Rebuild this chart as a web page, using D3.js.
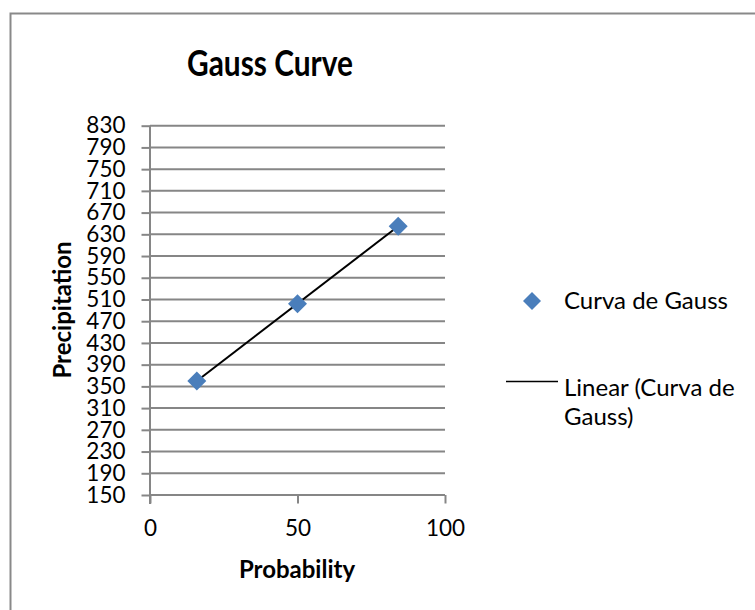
<!DOCTYPE html>
<html>
<head>
<meta charset="utf-8">
<script src="https://cdn.jsdelivr.net/npm/d3@7"></script>
<style>
  body { margin: 0; background: #fff; }
  svg text { font-family: Lato, "Open Sans", sans-serif; fill: #000; }
</style>
</head>
<body>
<div id="chartArea"></div>
<script>
// chart data
const probability = [15.87, 50, 84.13];
const precipitation = [360, 502, 645];
const yTicks = [150, 190, 230, 270, 310, 350, 390, 430, 470, 510, 550, 590, 630, 670, 710, 750, 790, 830];
const xTicks = [0, 50, 100];
const seriesName = "Curva de Gauss";
const trendName = ["Linear (Curva de", "Gauss)"];

const width = 755;
const height = 610;

const svg = d3.select("#chartArea")
  .append("svg")
  .attr("width", width)
  .attr("height", height);

// outer chart frame (bottom/right fall outside the window)
svg.append("path")
  .attr("d", "M10.5,612 L10.5,13.5 L757,13.5")
  .attr("fill", "none")
  .attr("stroke", "#898989")
  .attr("stroke-width", 2);

const xScale = d3.scaleLinear().domain([0, 100]).range([150, 445]);
const yScale = d3.scaleLinear().domain([150, 830]).range([495, 125.7]);

// left axis ticks + labels
const yAxis = svg.append("g")
  .attr("transform", "translate(150,0)")
  .call(d3.axisLeft(yScale).tickValues(yTicks).tickSize(8.5).tickPadding(16).tickFormat(d3.format("d")));
yAxis.select(".domain").remove();
yAxis.selectAll("line").attr("stroke", "#868686").attr("stroke-width", 2);
yAxis.selectAll("text").style("font-size", "22.5px").attr("fill", "#000");

// horizontal gridlines
svg.append("g")
  .selectAll("line")
  .data(yTicks)
  .join("line")
  .attr("x1", 150)
  .attr("x2", 445)
  .attr("y1", (d) => yScale(d))
  .attr("y2", (d) => yScale(d))
  .attr("stroke", "#868686")
  .attr("stroke-width", 2);

svg.append("line")
  .attr("x1", 150).attr("x2", 150)
  .attr("y1", yScale(830)).attr("y2", 504)
  .attr("stroke", "#868686")
  .attr("stroke-width", 2);

// bottom axis
const xAxis = svg.append("g")
  .attr("transform", `translate(0, ${yScale(150)})`)
  .call(d3.axisBottom(xScale).tickValues(xTicks).tickSize(8.5).tickPadding(17));
xAxis.select(".domain").attr("stroke", "#868686").attr("stroke-width", 2).attr("d", "M150,0H445");
xAxis.selectAll("line").attr("stroke", "#868686").attr("stroke-width", 2);
xAxis.selectAll("text").style("font-size", "22.5px").attr("fill", "#000");

// linear trendline (least squares over the series)
const mx = d3.mean(probability);
const my = d3.mean(precipitation);
const slope = d3.sum(probability, (x, i) => (x - mx) * (precipitation[i] - my)) /
  d3.sum(probability, (x) => (x - mx) * (x - mx));
const intercept = my - slope * mx;
const xExt = d3.extent(probability);

svg.append("line")
  .attr("x1", xScale(xExt[0]))
  .attr("y1", yScale(intercept + slope * xExt[0]))
  .attr("x2", xScale(xExt[1]))
  .attr("y2", yScale(intercept + slope * xExt[1]))
  .attr("stroke", "#000")
  .attr("stroke-width", 2);

// diamond markers
const diamond = "M0,-9.5L9.5,0L0,9.5L-9.5,0Z";
svg.append("g")
  .selectAll("path")
  .data(probability)
  .join("path")
  .attr("d", diamond)
  .attr("transform", (d, i) => `translate(${xScale(d)},${yScale(precipitation[i])})`)
  .attr("fill", "#4a7ebb");

// title
svg.append("text")
  .attr("x", 270)
  .attr("y", 76)
  .attr("text-anchor", "middle")
  .attr("textLength", 166)
  .attr("lengthAdjust", "spacingAndGlyphs")
  .style("font-size", "36px")
  .style("font-weight", "bold")
  .text("Gauss Curve");

// axis titles
svg.append("text")
  .attr("x", 297)
  .attr("y", 578)
  .attr("text-anchor", "middle")
  .style("font-size", "24px")
  .style("font-weight", "bold")
  .text("Probability");

svg.append("text")
  .attr("transform", "translate(71,310) rotate(-90)")
  .attr("text-anchor", "middle")
  .style("font-size", "24px")
  .style("font-weight", "bold")
  .text("Precipitation");

// legend
const legend = svg.append("g");
legend.append("path")
  .attr("d", "M0,-9L9,0L0,9L-9,0Z")
  .attr("transform", "translate(532,301)")
  .attr("fill", "#4a7ebb");
legend.append("text")
  .attr("x", 564)
  .attr("y", 309)
  .style("font-size", "24px")
  .text(seriesName);
legend.append("line")
  .attr("x1", 506).attr("x2", 558)
  .attr("y1", 381.5).attr("y2", 381.5)
  .attr("stroke", "#000")
  .attr("stroke-width", 1.5);
legend.selectAll("text.trend")
  .data(trendName)
  .join("text")
  .attr("class", "trend")
  .attr("x", 564)
  .attr("y", (d, i) => 396 + i * 29)
  .style("font-size", "24px")
  .text((d) => d);
</script>
</body>
</html>
